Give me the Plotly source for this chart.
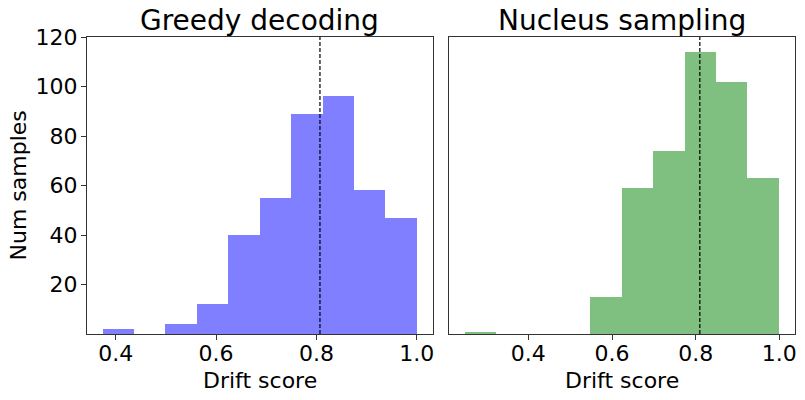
import plotly.graph_objects as go
from plotly.subplots import make_subplots

# histogram bins and counts
greedy_edges = [0.374, 0.4366, 0.499, 0.5618, 0.6244, 0.687, 0.7496, 0.8122, 0.8748, 0.9374, 1.0]
greedy_counts = [2, 0, 4, 12, 40, 55, 89, 96, 58, 47]
nucleus_edges = [0.249, 0.3241, 0.3992, 0.4743, 0.5494, 0.6245, 0.6996, 0.7747, 0.8498, 0.9249, 1.0]
nucleus_counts = [1, 0, 0, 0, 15, 59, 74, 114, 102, 63]
greedy_mean = 0.807
nucleus_mean = 0.810

titles = ["Greedy decoding", "Nucleus sampling"]
x_ticks = [0.4, 0.6, 0.8, 1.0]
x_tick_labels = ["0.4", "0.6", "0.8", "1.0"]
y_ticks = [20, 40, 60, 80, 100, 120]

font = "DejaVu Sans"
ink = "#000000"

fig = make_subplots(rows=1, cols=2, shared_yaxes=True, horizontal_spacing=0.024)

panels = [
    (greedy_edges, greedy_counts, greedy_mean, "rgba(0,0,255,0.5)"),
    (nucleus_edges, nucleus_counts, nucleus_mean, "rgba(0,128,0,0.5)"),
]

for i, (edges, counts, mean, colour) in enumerate(panels, start=1):
    widths = [b - a for a, b in zip(edges[:-1], edges[1:])]
    fig.add_trace(go.Bar(x=edges[:-1], y=counts, width=widths, offset=0,
                         marker=dict(color=colour, line=dict(width=0)),
                         showlegend=False), row=1, col=i)
    xr = "x" if i == 1 else "x2"
    # dashed mean line
    fig.add_shape(type="line", x0=mean, x1=mean, y0=0, y1=1,
                  xref=xr, yref="y domain" if i == 1 else "y2 domain",
                  line=dict(color="black", width=1.2, dash="4px,2px"))
    margin = (edges[-1] - edges[0]) * 0.05
    fig.update_xaxes(range=[edges[0] - margin, edges[-1] + margin],
                     tickvals=x_ticks, ticktext=x_tick_labels, row=1, col=i)
    fig.add_annotation(text="Drift score", xref=xr + " domain", yref="paper",
                       x=0.5, y=0, yanchor="middle", yshift=-46, showarrow=False,
                       font=dict(size=22, family=font, color=ink))
    fig.add_annotation(text=titles[i - 1], xref=xr + " domain", yref="paper",
                       x=0.5, y=1, yanchor="middle", yshift=17, showarrow=False,
                       font=dict(size=28, family=font, color=ink))

fig.add_annotation(text="Num samples", xref="paper", yref="paper", x=0, y=0.5,
                   xanchor="center", yanchor="middle", xshift=-69, textangle=-90,
                   showarrow=False, font=dict(size=22, family=font, color=ink))

fig.update_xaxes(showgrid=False, zeroline=False, showline=True, mirror=True, automargin=False,
                 linecolor="#333333", linewidth=1, ticks="outside", ticklen=5,
                 ticklabelstandoff=-5,
                 tickcolor="#333333", tickfont=dict(size=22, family=font, color=ink))
fig.update_yaxes(range=[0, 120], tickvals=y_ticks, showgrid=False, zeroline=False,
                 showline=True, mirror=True, automargin=False, linecolor="#333333", linewidth=1,
                 tickfont=dict(size=22, family=font, color=ink))
fig.update_yaxes(ticks="outside", ticklen=5, tickcolor="#333333", ticklabelstandoff=-1,
                 row=1, col=1)
fig.update_yaxes(ticks="", showticklabels=False, row=1, col=2)

# the page body adds an 8px offset, so the figure is sized 8px smaller
fig.update_layout(width=797, height=392, margin=dict(l=79, r=10, t=29, b=66),
                  plot_bgcolor="white", paper_bgcolor="white", bargap=0)

fig.write_html("out.html")
